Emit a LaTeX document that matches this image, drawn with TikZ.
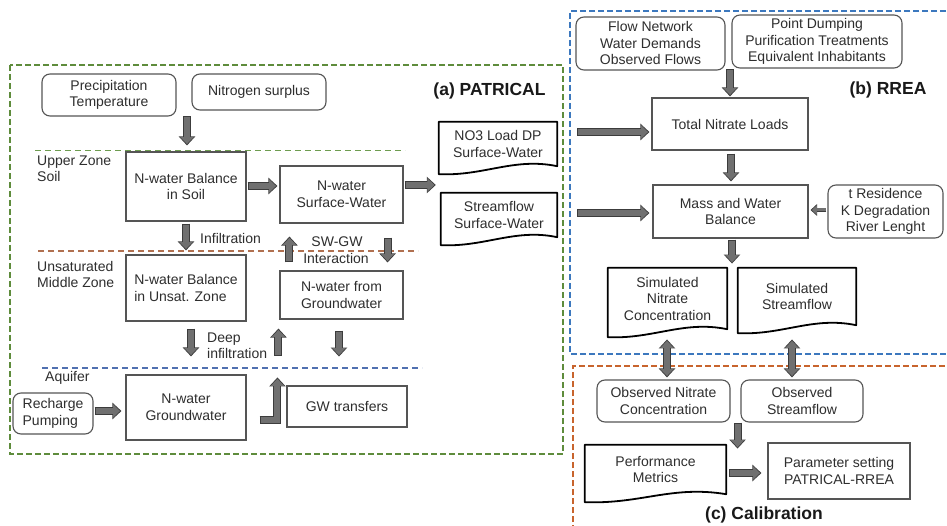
\documentclass[tikz,border=0pt]{standalone}
\usepackage{fontspec}
\setmainfont{Liberation Sans}
\usetikzlibrary{arrows.meta,calc}
\definecolor{txt}{HTML}{2E2E2E}
\definecolor{boxline}{HTML}{555555}
\definecolor{agray}{HTML}{707070}
\definecolor{aedge}{HTML}{3C3C3C}
\definecolor{gA}{HTML}{5E8C3C}
\definecolor{bB}{HTML}{3C78BE}
\definecolor{oC}{HTML}{C8642D}
\definecolor{gline}{HTML}{6E9C50}
\definecolor{brline}{HTML}{B07050}
\definecolor{blline}{HTML}{5070B0}
\newcommand\docpath[1]{\draw[docline] (#1.north west) -- (#1.north east) -- (#1.south east) .. controls ($(#1.south)+(16,-9)$) and ($(#1.south)+(-14,10)$) .. ($(#1.south west)+(0,8)$) -- cycle;}
\begin{document}
\begin{tikzpicture}[x=1pt,y=-1pt, font=\fontsize{14}{16.5}\selectfont, text=txt,
 box/.style={draw=boxline, line width=1.1pt, align=center, inner sep=0pt, fill=white},
 rbox/.style={box, rounded corners=8pt},
 docbox/.style={align=center, inner sep=0pt},
 docline/.style={draw=black, line width=1.8pt, line join=round},
 zone/.style={align=left, anchor=west, inner sep=0pt},
 lbl/.style={inner sep=0pt},
 title/.style={inner sep=0pt, text=black!90, font=\bfseries\fontsize{17.5}{20}\selectfont},
 bigbox/.style={line width=2pt, dash pattern=on 6pt off 3pt},
 zline/.style={line width=1.3pt, dash pattern=on 6pt off 4pt},
 fat/.style={draw=agray, line width=6pt, -{Triangle[length=7pt,width=13pt]}, shorten >=1.4pt, shorten <=1pt,
   preaction={draw=aedge, line width=8pt, -{Triangle[length=9pt,width=16pt]}, shorten >=0pt, shorten <=0pt}},
 fatdbl/.style={draw=agray, line width=6pt, {Triangle[length=7pt,width=13pt]}-{Triangle[length=7pt,width=13pt]}, shorten >=1.4pt, shorten <=1.4pt,
   preaction={draw=aedge, line width=8pt, {Triangle[length=9pt,width=16pt]}-{Triangle[length=9pt,width=16pt]}, shorten >=0pt, shorten <=0pt}},
 thin/.style={draw=agray, line width=3pt, -{Triangle[length=5pt,width=9pt]}, shorten >=1.2pt, shorten <=0.8pt,
   preaction={draw=aedge, line width=4.6pt, -{Triangle[length=6.5pt,width=11.5pt]}, shorten >=0pt, shorten <=0pt}}
]
\clip (0,0) rectangle (947,526);
\fill[white] (0,0) rectangle (947,526);

% big dashed frames
\draw[gA, bigbox] (10,65) rectangle (563,454);
\draw[bB, bigbox] (955,11) -- (570,11) -- (570,354) -- (955,354);
\draw[oC, bigbox] (573,540) -- (573,366) -- (955,366);

% zone lines
\draw[gline, zline] (35,150.7) -- (405,150.7);
\draw[brline, zline] (38,251) -- (418,251);
\draw[blline, zline] (42,368) -- (422,368);

% (a) PATRICAL
\node[rbox, minimum width=134pt, minimum height=42pt] (prec) at (109,95) {Precipitation\\Temperature};
\node[rbox, minimum width=134pt, minimum height=36pt] (nsur) at (259,92) {Nitrogen surplus};
\node[box, minimum width=120pt, minimum height=69pt] (soil) at (186,186.5) {N-water Balance\\in Soil};
\node[box, minimum width=123pt, minimum height=57pt] (surf) at (341.5,194.5) {N-water\\Surface-Water};
\node[docbox, minimum width=118pt, minimum height=44pt] (no3) at (498,144) {NO3 Load DP\\Surface-Water};
\node[docbox, minimum width=116pt, minimum height=44pt] (strm) at (499,215) {Streamflow\\Surface-Water};
\node[box, align=left, minimum width=120pt, minimum height=66pt] (unsat) at (186,288) {N-water Balance\\in Unsat. Zone};
\node[box, minimum width=123pt, minimum height=48pt] (gwfrom) at (341.5,295) {N-water from\\Groundwater};
\node[box, minimum width=120pt, minimum height=65pt] (gw) at (186,407.5) {N-water\\Groundwater};
\node[rbox, align=left, minimum width=80pt, minimum height=41pt] (rech) at (53,413.5) {Recharge\\Pumping};
\node[box, minimum width=120pt, minimum height=41pt] (gwt) at (347,406.5) {GW transfers};
\docpath{no3}
\docpath{strm}

\node[zone] (uz) at (37,169) {Upper Zone\\Soil};
\node[zone] (um) at (37,274.5) {Unsaturated\\Middle Zone};
\node[zone] (aq) at (45,378) {Aquifer};
\node[zone] (infl) at (200,238) {Infiltration};
\node[lbl] (swgw) at (337,242) {SW-GW};
\node[lbl] (inter) at (336,258) {Interaction};
\node[zone] (deep) at (207,346) {Deep\\infiltration};
\node[title] (labA) at (489.5,91) {(a) PATRICAL};

\draw[fat] ($(soil.north)+(1,-35)$) -- ($(soil.north)+(1,-6)$);
\draw[fat] ($(soil.east)+(1,-0.5)$) -- ($(soil.east -| surf.west)+(-2,-0.5)$);
\draw[fat] ($(soil.east -| surf.east)+(1,-1.5)$) -- ($(soil.east -| no3.west)+(-3,-1.5)$);
\draw[fat] ($(soil.south)+(0,2)$) -- ($(unsat.north)+(0,-4)$);
\draw[fat] ($(gwfrom.north west)+(10,-8)$) -- ($(surf.south west)+(10,13)$);
\draw[fat] ($(surf.south east)+(-16,14)$) -- ($(gwfrom.north east)+(-16,-8)$);
\draw[fat] ($(unsat.south)+(5,7)$) -- ($(gw.north)+(5,-18)$);
\draw[fat] ($(gwfrom.south west)+(-1,36)$) -- ($(gwfrom.south west)+(-1,9)$);
\draw[fat] ($(gwfrom.south)+(-2.5,11)$) -- ($(gwfrom.south)+(-2.5,37)$);
\draw[fat] ($(rech.east)+(1,-2.5)$) -- ($(rech.east -| gw.west)+(-4,-2.5)$);
\draw[fat, line join=miter] ($(gw.east)+(13,12.5)$) -- ($(gwt.west)+(-9,13.5)$) -- ($(gwt.north west)+(-9,-8)$);

% (b) RREA
\node[rbox, minimum width=149pt, minimum height=53pt] (flow) at (650.5,43.5) {Flow Network\\Water Demands\\Observed Flows};
\node[rbox, minimum width=170pt, minimum height=53pt] (pdump) at (817,41.5) {Point Dumping\\Purification Treatments\\Equivalent Inhabitants};
\node[box, minimum width=156pt, minimum height=52pt] (tnl) at (730,124) {Total Nitrate Loads};
\node[box, minimum width=155pt, minimum height=53pt] (mwb) at (730.5,211.5) {Mass and Water\\Balance};
\node[rbox, minimum width=115pt, minimum height=53pt] (tres) at (885.5,211.5) {t Residence\\K Degradation\\River Lenght};
\node[docbox, minimum width=119pt, minimum height=61pt] (simn) at (667.5,298.5) {Simulated\\Nitrate\\Concentration};
\node[docbox, minimum width=118pt, minimum height=57pt] (sims) at (797,296.5) {Simulated\\Streamflow};
\docpath{simn}
\docpath{sims}
\node[title] (labB) at (888,90) {(b) RREA};

\draw[fat] ($(tnl.north)+(0,-28)$) -- ($(tnl.north)+(0,-1)$);
\draw[fat] ($(no3.east)+(20,-12)$) -- ($(tnl.west)+(-2,8)$);
\draw[fat] ($(tnl.south)+(1,3)$) -- ($(mwb.north)+(0.5,-3)$);
\draw[fat] ($(strm.east)+(20,-2)$) -- ($(mwb.west)+(-3,1.5)$);
\draw[thin] ($(tres.west)+(-1,-1.5)$) -- ($(mwb.east)+(2,-1.5)$);
\draw[fat] ($(mwb.south)+(1.5,1)$) -- ($(mwb.south)+(1.5,25)$);

% (c) Calibration
\node[rbox, minimum width=133pt, minimum height=42pt] (obsn) at (663.5,401) {Observed Nitrate\\Concentration};
\node[rbox, minimum width=122pt, minimum height=42pt] (obss) at (802,401) {Observed\\Streamflow};
\node[docbox, minimum width=141pt, minimum height=49pt] (perf) at (655.5,469.5) {Performance\\Metrics};
\node[box, minimum width=142pt, minimum height=56pt] (param) at (839,471) {Parameter setting\\PATRICAL-RREA};
\docpath{perf}
\node[title] (labC) at (764,515) {(c) Calibration};

\draw[fatdbl] ($(obsn.north)+(3.5,-40)$) -- ($(obsn.north)+(3.5,-2)$);
\draw[fatdbl] ($(obss.north)+(-10,-40)$) -- ($(obss.north)+(-10,-2)$);
\draw[fat] ($(obsn.south east)+(7,0)$) -- ($(obsn.south east)+(7,26)$);
\draw[fat] ($(perf.east)+(3,3.5)$) -- ($(param.west)+(-6,2)$);
\end{tikzpicture}
\end{document}
